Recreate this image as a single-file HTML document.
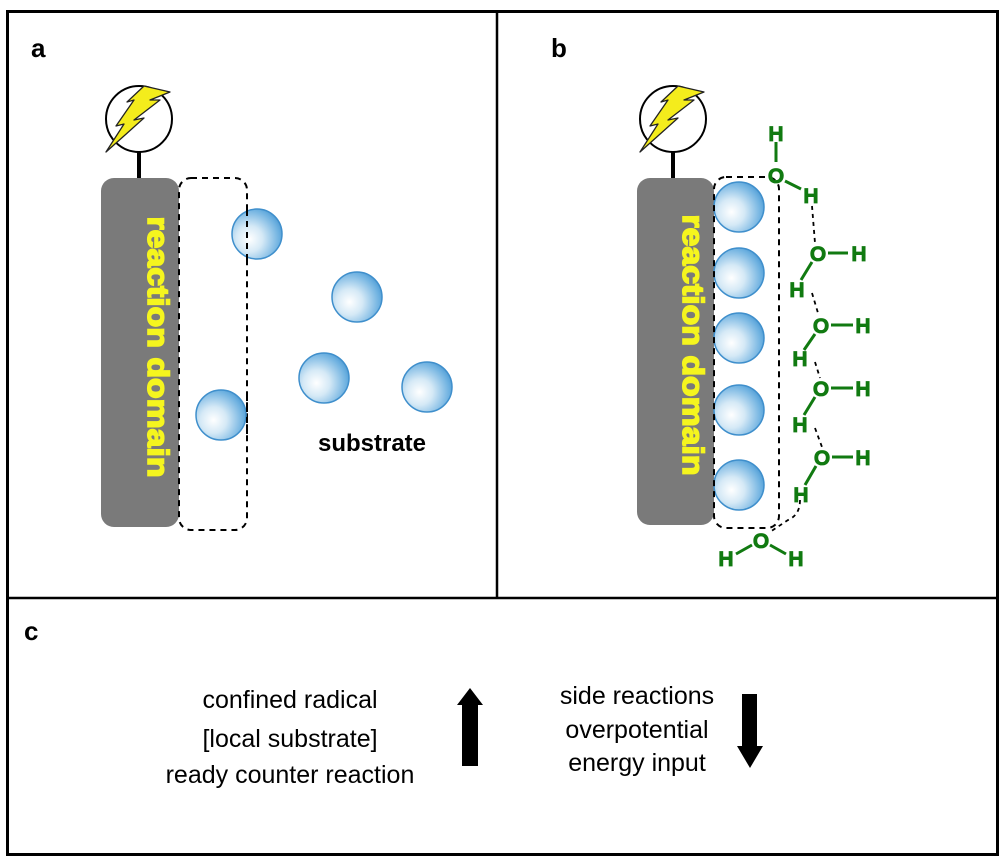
<!DOCTYPE html>
<html><head><meta charset="utf-8"><style>html,body{margin:0;padding:0;background:#fff;}svg{display:block}</style></head>
<body>
<svg width="1006" height="865" viewBox="0 0 1006 865" xmlns="http://www.w3.org/2000/svg" font-family="Liberation Sans, Arial, sans-serif">
<defs>
<radialGradient id="sph" cx="0.35" cy="0.6" r="0.75">
<stop offset="0" stop-color="#ffffff"/><stop offset="0.35" stop-color="#d5e9f6"/><stop offset="0.8" stop-color="#6cb0e0"/><stop offset="1" stop-color="#3f8fcc"/>
</radialGradient>
<g id="bolt"><path d="M-32,36 L-14,8 L-22,10 L-4,-16 L-11,-14 L6,-30 L32,-24 L12,-16 L22,-16 L-4,4 L6,2 Z" fill="#f4ec1c" stroke="#222" stroke-width="1.3" stroke-linejoin="round"/></g>
</defs>
<rect x="7.5" y="11.5" width="990" height="843" fill="none" stroke="#000" stroke-width="3"/>
<line x1="497" y1="11" x2="497" y2="598" stroke="#000" stroke-width="2.5"/>
<line x1="7" y1="598" x2="998" y2="598" stroke="#000" stroke-width="2.5"/>
<text x="31" y="57" font-size="26" font-weight="bold">a</text>
<text x="551" y="57" font-size="26" font-weight="bold">b</text>
<text x="24" y="640" font-size="26" font-weight="bold">c</text>

<!-- panel a -->
<line x1="139" y1="150" x2="139" y2="180" stroke="#000" stroke-width="4"/>
<circle cx="139" cy="119" r="33" fill="#fff" stroke="#000" stroke-width="2"/>
<use href="#bolt" transform="translate(138,116)"/>
<rect x="101" y="178" width="78" height="349" rx="13" fill="#7a7a7a"/>
<rect x="179" y="178" width="68" height="352" rx="12" fill="none" stroke="#000" stroke-width="2" stroke-dasharray="6,5"/>
<text x="0" y="0" transform="translate(148,347) rotate(90)" text-anchor="middle" font-size="30" font-weight="bold" textLength="261" lengthAdjust="spacingAndGlyphs" fill="#f5f51e" stroke="#f5f51e" stroke-width="1.6">reaction domain</text>
<g fill="url(#sph)" stroke="#3f8fcc" stroke-width="1.5">
<circle cx="257" cy="234" r="25"/><circle cx="357" cy="297" r="25"/><circle cx="324" cy="378" r="25"/><circle cx="427" cy="387" r="25"/><circle cx="221" cy="415" r="25"/>
</g>
<path d="M247,210 L247,260 M247,395 L247,440" stroke="#000" stroke-width="2" stroke-dasharray="6,5"/>
<text x="372" y="451" text-anchor="middle" font-size="24" font-weight="bold">substrate</text>

<!-- panel b -->
<line x1="673" y1="150" x2="673" y2="180" stroke="#000" stroke-width="4"/>
<circle cx="673" cy="119" r="33" fill="#fff" stroke="#000" stroke-width="2"/>
<use href="#bolt" transform="translate(672,116)"/>
<rect x="637" y="178" width="77" height="347" rx="13" fill="#7a7a7a"/>
<text x="0" y="0" transform="translate(683,345) rotate(90)" text-anchor="middle" font-size="30" font-weight="bold" textLength="261" lengthAdjust="spacingAndGlyphs" fill="#f5f51e" stroke="#f5f51e" stroke-width="1.6">reaction domain</text>
<g fill="url(#sph)" stroke="#3f8fcc" stroke-width="1.5">
<circle cx="739" cy="207" r="25"/><circle cx="739" cy="273" r="25"/><circle cx="739" cy="338" r="25"/><circle cx="739" cy="410" r="25"/><circle cx="739" cy="485" r="25"/>
</g>
<rect x="714" y="177" width="65" height="351" rx="12" fill="none" stroke="#000" stroke-width="2" stroke-dasharray="6,5"/>
<g stroke="#000" stroke-width="1.8" stroke-dasharray="4,4" fill="none">
<path d="M812,206 L815,243"/><path d="M812,293 L818,313"/><path d="M815,362 L820,378"/><path d="M815,428 L822,447"/><path d="M800,500 Q800,515 788,520 L770,532"/>
</g>
<g stroke="#117a11" stroke-width="3">
<line x1="776" y1="142" x2="776" y2="162"/><line x1="785" y1="181" x2="801" y2="189"/>
<line x1="828" y1="253" x2="848" y2="253"/><line x1="812" y1="262" x2="801" y2="280"/>
<line x1="831" y1="325" x2="853" y2="325"/><line x1="815" y1="334" x2="804" y2="350"/>
<line x1="831" y1="388" x2="853" y2="388"/><line x1="815" y1="397" x2="804" y2="415"/>
<line x1="832" y1="457" x2="853" y2="457"/><line x1="816" y1="466" x2="805" y2="485"/>
<line x1="752" y1="545" x2="736" y2="554"/><line x1="770" y1="545" x2="786" y2="554"/>
</g>
<g fill="#117a11" stroke="#117a11" stroke-width="0.8" font-size="21" font-weight="bold" text-anchor="middle">
<text x="776" y="141">H</text><text x="776" y="183">O</text><text x="811" y="203">H</text>
<text x="818" y="261">O</text><text x="859" y="261">H</text><text x="797" y="297">H</text>
<text x="821" y="333">O</text><text x="863" y="333">H</text><text x="800" y="366">H</text>
<text x="821" y="396">O</text><text x="863" y="396">H</text><text x="800" y="432">H</text>
<text x="822" y="465">O</text><text x="863" y="465">H</text><text x="801" y="502">H</text>
<text x="761" y="548">O</text><text x="726" y="566">H</text><text x="796" y="566">H</text>
</g>

<!-- panel c -->
<g font-size="25" text-anchor="middle" fill="#000">
<text x="290" y="708">confined radical</text>
<text x="290" y="747">[local substrate]</text>
<text x="290" y="783">ready counter reaction</text>
<text x="637" y="704">side reactions</text>
<text x="637" y="738">overpotential</text>
<text x="637" y="771">energy input</text>
</g>
<path d="M470,688 L483,705 L478,705 L478,766 L462,766 L462,705 L457,705 Z" fill="#000"/>
<path d="M742,694 L757,694 L757,746 L763,746 L750,768 L737,746 L742,746 Z" fill="#000"/>
</svg>
</body></html>
